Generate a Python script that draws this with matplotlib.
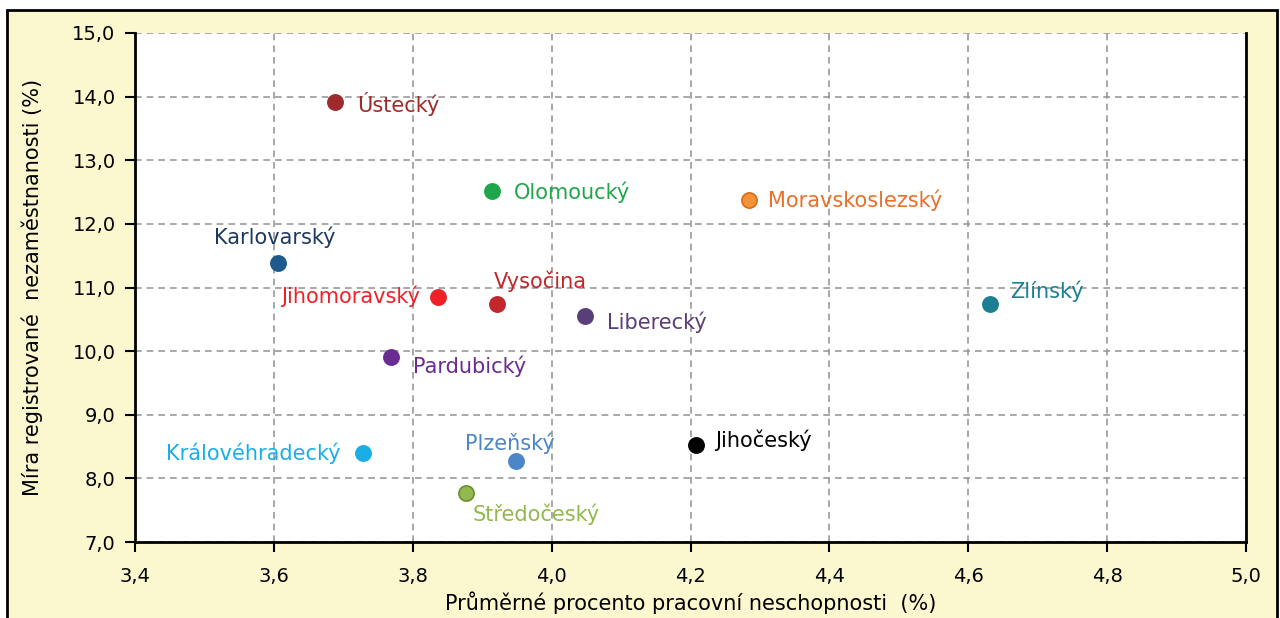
import matplotlib.pyplot as plt
from matplotlib.patches import Rectangle
from matplotlib.ticker import FuncFormatter

# --- Données ---
kraje = ["Ústecký", "Olomoucký", "Moravskoslezský", "Karlovarský", "Jihomoravský",
         "Vysočina", "Liberecký", "Zlínský", "Pardubický", "Královéhradecký",
         "Plzeňský", "Jihočeský", "Středočeský"]
neschopnost = [3.688, 3.914, 4.284, 3.606, 3.836, 3.922, 4.048, 4.631, 3.769, 3.728,
               3.949, 4.208, 3.877]
nezamestnanost = [13.92, 12.52, 12.38, 11.39, 10.85, 10.74, 10.55, 10.74, 9.91, 8.40,
                  8.27, 8.53, 7.77]

marker_colors = ["#9E2A2B", "#1FA64A", "#F39237", "#1F5A8E", "#EE2129", "#C1272D",
                 "#5A3E7A", "#1A7F91", "#6A2C91", "#1BAEE6", "#4A86C8", "#000000",
                 "#93B84F"]
edge_colors = ["#9E2A2B", "#1FA64A", "#D96A1E", "#1F5A8E", "#EE2129", "#C1272D",
               "#5A3E7A", "#1A7F91", "#6A2C91", "#1BAEE6", "#4A86C8", "#000000",
               "#6B8E2E"]
text_colors = ["#9E2A2B", "#1FA64A", "#E8702A", "#1F3A5F", "#EE2129", "#C1272D",
               "#5A3E7A", "#1A7F91", "#6A2C91", "#1BAEE6", "#4A86C8", "#000000",
               "#93B84F"]

# décalages des étiquettes (pixels) et alignement
offsets = [(22, -2, "left"), (22, -1, "left"), (19, -1, "left"), (-3, 25, "center"),
           (-18, 1, "right"), (43, 23, "center"), (22, -6, "left"), (20, 13, "left"),
           (22, -9, "left"), (-22, 0, "right"), (-6, 18, "center"), (19, 4, "left"),
           (6, -21, "left")]

plt.rcParams["font.family"] = ["DejaVu Sans"]
FS = 15

fig = plt.figure(figsize=(12.8, 6.18), dpi=100, facecolor="white")
fig.patches.append(Rectangle((7 / 1280, -0.05), 1270 / 1280, 1.05 - 10 / 618,
                             transform=fig.transFigure, facecolor="#FBF7CE",
                             edgecolor="black", linewidth=2, zorder=-10))

ax = fig.add_axes([135 / 1280, 1 - 542 / 618, (1246 - 135) / 1280, (542 - 33) / 618])
ax.set_facecolor("white")

for i in range(len(kraje)):
    ax.scatter(neschopnost[i], nezamestnanost[i], s=120, color=marker_colors[i],
               edgecolors=edge_colors[i], linewidths=1.2, zorder=3)
    dx, dy, ha = offsets[i]
    ax.annotate(kraje[i], (neschopnost[i], nezamestnanost[i]), xytext=(dx, dy),
                textcoords="offset pixels", ha=ha, va="center", fontsize=FS,
                color=text_colors[i], zorder=4)

ax.set_xlim(3.4, 5.0)
ax.set_ylim(7.0, 15.0)
ax.set_xticks([3.4 + 0.2 * k for k in range(9)])
ax.set_yticks(range(7, 16))
ax.xaxis.set_major_formatter(FuncFormatter(lambda v, p: f"{v:.1f}".replace(".", ",")))
ax.yaxis.set_major_formatter(FuncFormatter(lambda v, p: f"{v:.1f}".replace(".", ",")))
ax.tick_params(direction="out", length=7, width=1.5, labelsize=14, pad=7, colors="black")
ax.tick_params(axis="x", pad=11)

ax.grid(True, linestyle=(0, (4, 3)), color="#999999", linewidth=1.2)
ax.set_axisbelow(True)
ax.spines["top"].set_visible(False)
for s in ["left", "bottom", "right"]:
    ax.spines[s].set_linewidth(2)
    ax.spines[s].set_color("black")

ax.set_xlabel("Průměrné procento pracovní neschopnosti  (%)", fontsize=FS, labelpad=4)
ax.set_ylabel("Míra registrované  nezaměstnanosti (%)", fontsize=FS, labelpad=21)

fig.savefig("out.png", dpi=100, facecolor=fig.get_facecolor())
